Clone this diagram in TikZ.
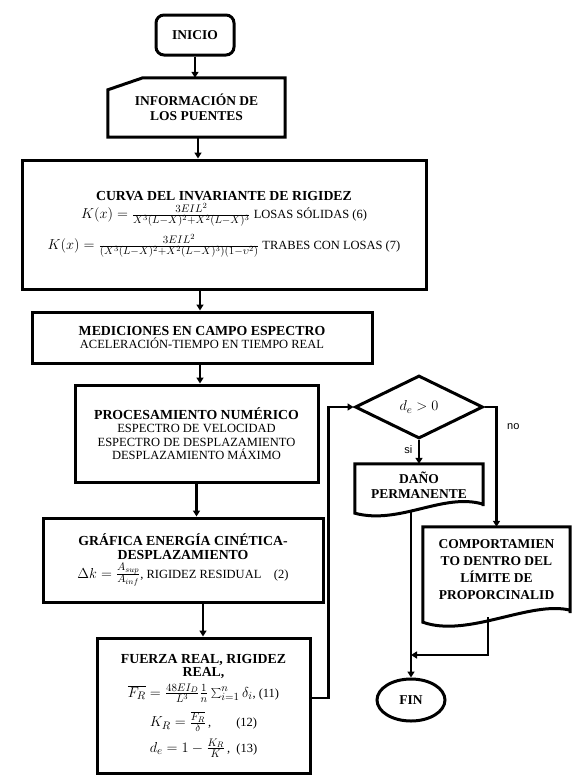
\documentclass[tikz,border=0pt]{standalone}
\usepackage{fontspec}
\setmainfont{Liberation Serif}
\newfontfamily\arialf{Liberation Sans}
\usetikzlibrary{shapes.geometric,arrows.meta,calc}
\DeclareMathSizes{12.5}{14}{11}{8}
\begin{document}
\begin{tikzpicture}[x=1pt,y=-1pt,
  box/.style={draw,line width=3pt,rectangle,align=center,inner sep=0pt},
  plain/.style={rectangle,align=center,inner sep=0pt},
  arr/.style={line width=2.6pt,-{Triangle[length=6pt,width=7pt]}},
  ln/.style={line width=2.6pt},
  shp/.style={line width=3pt,line join=miter},
  rg/.style={font=\fontsize{12.5}{13.5}\selectfont},
  tb/.style={font=\fontsize{13.5}{15}\selectfont\bfseries},
  lab/.style={font=\arialf\fontsize{11}{12}\selectfont}]
\useasboundingbox (0,0) rectangle (579,779);
\newcommand{\ttl}[1]{{\fontsize{13.8}{15}\selectfont\bfseries #1}}

% start
\node[box,rounded corners=8pt,minimum width=78,minimum height=40,tb] (inicio) at (195,35) {INICIO};

% manual input
\node[plain,minimum width=177,minimum height=59,tb] (info) at (196.5,107.5) {INFORMACIÓN DE\\LOS PUENTES};
\draw[shp] (info.south west) -- (info.south east) -- (info.north east) -- ($(info.north west)+(35,0)$) -- ($(info.north west)+(0,12)$) -- cycle;

\node[box,minimum width=404,minimum height=129,rg] (curva) at (224,224.5) {%
\ttl{CURVA DEL INVARIANTE DE RIGIDEZ}\\[2pt]
$K(x) = \frac{3EIL^2}{X^3(L-X)^2+X^2(L-X)^3}$ LOSAS SÓLIDAS (6)\\[7pt]
$K(x) = \frac{3EIL^2}{(X^3(L-X)^2+X^2(L-X)^3)(1-\upsilon^2)}$ TRABES CON LOSAS (7)};

\node[box,minimum width=340,minimum height=51,rg] (medic) at (202,337.5) {%
\ttl{MEDICIONES EN CAMPO ESPECTRO}\\ACELERACIÓN-TIEMPO EN TIEMPO REAL};

\node[box,minimum width=243,minimum height=97,rg] (proc) at (196.5,433.5) {%
\ttl{PROCESAMIENTO NUMÉRICO}\\ESPECTRO DE VELOCIDAD\\ESPECTRO DE DESPLAZAMIENTO\\DESPLAZAMIENTO MÁXIMO};

\node[box,minimum width=280,minimum height=84,rg] (graf) at (183,560) {%
\ttl{GRÁFICA ENERGÍA CINÉTICA-}\\\ttl{DESPLAZAMIENTO}\\[3pt]
$\Delta k = \frac{A_{sup}}{A_{inf}}$, RIGIDEZ RESIDUAL\quad (2)};

\node[box,minimum width=213,minimum height=135,rg] (fuerza) at (203.5,705.5) {%
\ttl{FUERZA REAL, RIGIDEZ}\\\ttl{REAL,}\\[4pt]
$\overline{F_R} = \frac{48EI_D}{L^3}\frac{1}{n}\sum_{i=1}^{n}\delta_i$, (11)\\[8pt]
$K_R = \frac{\overline{F_R}}{\delta}$\,,\qquad (12)\\[6pt]
$d_e = 1-\frac{K_R}{K}$\,,\ \ (13)};

\node[draw,diamond,line width=3pt,minimum width=128,minimum height=63,inner sep=0pt,rg] (dec) at (419,407) {$d_e > 0$};

% document shapes
\node[plain,minimum width=128,minimum height=42,tb] (dano) at (419,485) {DAÑO\\PERMANENTE};
\draw[shp] (dano.south east) -- (dano.north east) -- (dano.north west) -- ($(dano.south west)+(0,7)$)
  .. controls +(45,12) and +(-40,-12) .. ($(dano.south east)+(0,-2)$) -- cycle;

\node[plain,minimum width=147,minimum height=86,tb,font=\fontsize{13.5}{17}\selectfont\bfseries] (comp) at (496.5,570) {COMPORTAMIEN\\TO DENTRO DEL\\LÍMITE DE\\PROPORCINALID};
\draw[shp] (comp.south east) -- (comp.north east) -- (comp.north west) -- ($(comp.south west)+(0,9)$)
  .. controls +(45,16) and +(-40,-10) .. ($(comp.south east)+(0,-3)$) -- cycle;

\node[draw,ellipse,line width=3pt,minimum width=68,minimum height=42,inner sep=0pt,tb] (fin) at (411,700) {FIN};

% connectors
\draw[arr] (inicio.south) -- (inicio.south |- info.north);
\draw[arr] ([xshift=1.5pt]info.south) -- ([xshift=1.5pt]info.south |- curva.north);
\draw[arr] ([xshift=-24pt]curva.south) -- ([xshift=-24pt]curva.south |- medic.north);
\draw[arr] ([xshift=-2pt]medic.south) -- ([xshift=-2pt]medic.south |- proc.north);
\draw[arr] (proc.south) -- (proc.south |- graf.north);
\draw[arr] ([xshift=20pt]graf.south) -- ([xshift=20pt]graf.south |- fuerza.north);
\draw[arr] ([yshift=7.5pt]fuerza.east) -- ++(17,0) |- (dec.west);
\draw[arr] (dec.south) -- node[lab,left=2pt,pos=0.4] {si} (dano.north);
\draw[arr] (dec.east) -| node[lab,right=6pt,pos=0.58] {no} (comp.north);
\coordinate (j) at (fin.north |- 0,655);
\draw[arr] ($(fin.north |- dano.south)+(0,6)$) -- (fin.north);
\draw[arr] ([xshift=-8.5pt]comp.south) ++(0,4) -- ([xshift=-8.5pt]comp.south |- j) -- (j);
\end{tikzpicture}
\end{document}
